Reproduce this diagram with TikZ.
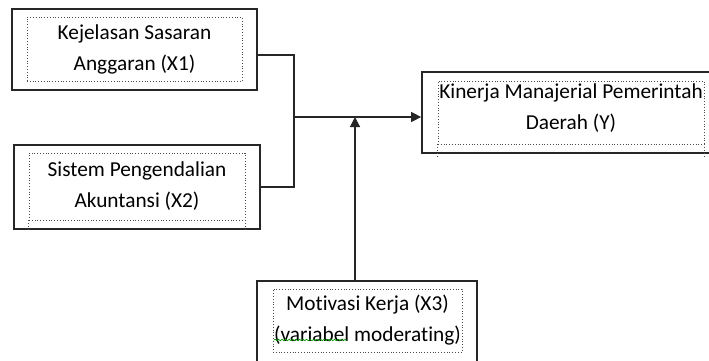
\documentclass[tikz,border=0pt]{standalone}
\usepackage{fontspec}
\setmainfont{Carlito}[Ligatures=NoCommon]
\usetikzlibrary{arrows.meta,decorations.pathmorphing}

\begin{document}
\begin{tikzpicture}[x=1pt,y=-1pt]
	\tikzset{decoration={snake,amplitude=.7pt,segment length=3.5pt, post length=0mm,pre length=0mm}}
	\tikzset{outerbox/.style={draw=black!85, line width=1.7pt, inner sep=0pt},
	         innerbox/.style={draw=black!70, dotted, line width=0.8pt, inner sep=0pt, align=center, font=\fontsize{21.3}{31}\selectfont},
	         conn/.style={line width=1.1pt, draw=black!85},
	         arrowline/.style={conn, -{Triangle[length=10pt,width=10pt]}}}
	\path[use as bounding box] (0,0) rectangle (709,360);
	\clip (0,0) rectangle (709,360);

	%---NODES---
	\node[outerbox, minimum width=245pt, minimum height=81pt] (X1) at (134.5,49.5) {};
	\node[innerbox, minimum width=215pt, minimum height=64pt] (X1in) at (134.5,49) {Kejelasan Sasaran\\Anggaran (X1)};

	\node[outerbox, minimum width=246pt, minimum height=84pt] (X2) at (137,187) {};
	\node[innerbox, minimum width=216pt, minimum height=67pt] (X2in) at (137,186.5) {Sistem Pengendalian\\Akuntansi (X2)};

	\node[outerbox, minimum width=290pt, minimum height=81pt] (Y) at (567,112.5) {};
	\node[innerbox, minimum width=266pt, minimum height=63pt] (Yin) at (571,112.5) {Kinerja Manajerial Pemerintah\\Daerah (Y)\\[-20pt]};

	\node[outerbox, minimum width=220pt, minimum height=84pt] (X3) at (367,323) {};
	\node[innerbox, minimum width=189pt, minimum height=63pt] (X3in) at (367.5,320.5) {Motivasi Kerja (X3)\\(variabel moderating)};

	\coordinate (j) at (294,117);

	%---EDGES---
	\draw[conn] ([yshift=-5.5pt]X1.east) -| (j);
	\draw[conn] (X2.east) -| (j);
	\draw[arrowline] (j) -- (j -| Y.west);
	\draw[arrowline] ([xshift=-12pt]X3.north) -- ([xshift=-12pt]X3.north |- j);

	%---EXTRAS---
	\draw[black!70, dotted, line width=0.8pt] (X2in.south west) -- ++(0,11);
	\draw[black!70, dotted, line width=0.8pt] (X2in.south east) -- ++(0,11);
	\draw[black!70, dotted, line width=0.8pt] (Yin.south west) -- ++(0,13);
	\draw[black!70, dotted, line width=0.8pt] (Yin.south east) -- ++(0,13);
	\draw[decorate, green!60!black, line width=0.7pt] (274,340) -- (347,340);

\end{tikzpicture}
\end{document}
